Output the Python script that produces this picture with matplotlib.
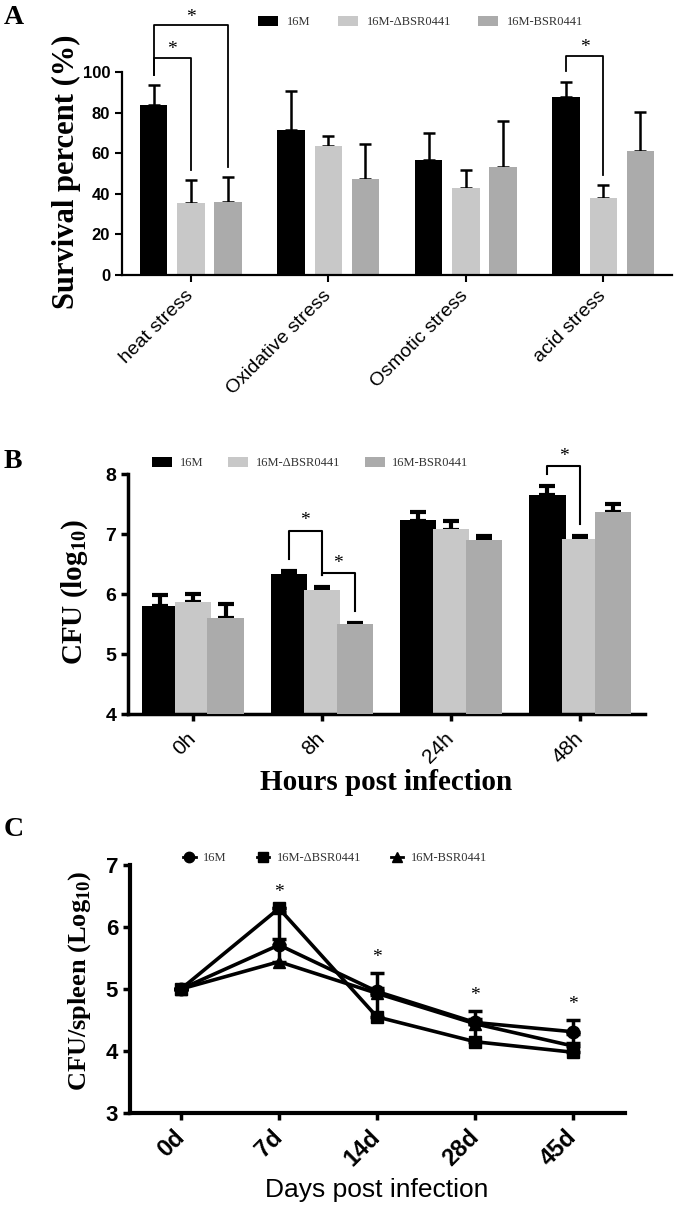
import numpy as np
import matplotlib.pyplot as plt
from matplotlib.lines import Line2D

plt.rcParams['font.family'] = ['Liberation Sans', 'DejaVu Sans']
plt.rcParams['mathtext.fontset'] = 'custom'
plt.rcParams['mathtext.rm'] = 'Liberation Serif:bold'
plt.rcParams['mathtext.bf'] = 'Liberation Serif:bold'
SERIF = ['Liberation Serif', 'DejaVu Serif']

strains = ['16M', '16M-ΔBSR0441', '16M-BSR0441']
colors = ['#000000', '#c8c8c8', '#ababab']

#----- panel A data
stress = ['heat stress', 'Oxidative stress', 'Osmotic stress', 'acid stress']
surv_16m = [83.6, 71.6, 56.5, 87.6]
surv_del = [35.3, 63.4, 43.0, 38.1]
surv_comp = [36.1, 47.2, 53.4, 61.3]
surv_err_16m = [10.0, 18.9, 13.4, 7.7]
surv_err_del = [11.4, 4.9, 8.6, 6.0]
surv_err_comp = [12.3, 17.2, 22.4, 18.9]
# (group, bar i, bar j, bracket height)
sig_A = [(0, 0, 1, 107), (0, 0, 2, 123), (3, 0, 1, 108)]

#----- panel B data
hours = ['0h', '8h', '24h', '48h']
cfu_16m = [5.81, 6.34, 7.23, 7.65]
cfu_del = [5.87, 6.07, 7.08, 6.93]
cfu_comp = [5.60, 5.51, 6.90, 7.37]
cfu_err_16m = [0.18, 0.05, 0.14, 0.15]
cfu_err_del = [0.13, 0.06, 0.15, 0.04]
cfu_err_comp = [0.24, 0.02, 0.08, 0.13]
sig_B = [(1, 0, 1, 7.06), (1, 1, 2, 6.35), (3, 0, 1, 8.13)]

#----- panel C data
days = ['0d', '7d', '14d', '28d', '45d']
sp_16m = [5.0, 5.71, 4.96, 4.46, 4.31]
sp_del = [5.0, 6.30, 4.55, 4.15, 3.98]
sp_comp = [5.0, 5.44, 4.93, 4.44, 4.08]
sp_err_16m = [0, 0.10, 0.05, 0.05, 0.19]
sp_err_del = [0, 0, 0.35, 0.28, 0.30]
sp_err_comp = [0, 0.80, 0.33, 0.21, 0.05]
sig_days = [1, 2, 3, 4]

W, H = 675, 1208
fig = plt.figure(figsize=(6.75, 12.08), dpi=100)


def box(left, top, right, bottom):
    return [left / W, 1 - bottom / H, (right - left) / W, (bottom - top) / H]


def bracket(ax, x1, x2, y1, y2, top, star_gap, lw):
    ax.plot([x1, x1, x2, x2], [y1, top, top, y2], color='black', lw=lw, clip_on=False)
    ax.text((x1 + x2) / 2, top + star_gap, '*', ha='center', va='center',
            family=SERIF, fontsize=14, clip_on=False)


#----- A
axA = fig.add_axes(box(122, 0, 672, 275))
x = np.arange(len(stress))
offA = [-0.27, 0, 0.27]
valsA = [surv_16m, surv_del, surv_comp]
errsA = [surv_err_16m, surv_err_del, surv_err_comp]
for k in range(3):
    axA.bar(x + offA[k], valsA[k], 0.2, color=colors[k], label=strains[k], zorder=2)
    axA.errorbar(x + offA[k], valsA[k], yerr=[np.zeros(4), errsA[k]], fmt='none',
                 ecolor='black', elinewidth=1.8, capsize=4, capthick=1.8, zorder=1)
for g, i, j, top in sig_A:
    yi = valsA[i][g] + errsA[i][g] + 5
    yj = valsA[j][g] + errsA[j][g] + 5
    bracket(axA, g + offA[i], g + offA[j], yi, yj, top, 4, 1.3)
axA.set_xlim(-0.5, 3.5)
axA.set_ylim(0, 135.5)
axA.set_yticks(np.arange(0, 101, 20))
axA.spines['left'].set_bounds(0, 100)
axA.set_xticks(x)
axA.set_xticklabels(stress, rotation=45, ha='right', va='center',
                    rotation_mode='anchor', fontsize=14)
axA.tick_params(axis='x', pad=8)
for lab in axA.get_yticklabels():
    lab.set_fontweight('bold')
    lab.set_fontsize(12)
for s in ['top', 'right']:
    axA.spines[s].set_visible(False)
for s in ['left', 'bottom']:
    axA.spines[s].set_linewidth(1.6)
axA.tick_params(width=1.5, length=5)
fig.legend(*axA.get_legend_handles_labels(), loc='center left',
           bbox_to_anchor=(258 / W, 1 - 22 / H), ncol=3, frameon=False,
           prop={'family': SERIF, 'size': 9}, labelcolor='#333333',
           handlelength=1.6, handleheight=0.9, handletextpad=0.7,
           columnspacing=2.2, borderpad=0, borderaxespad=0)

#----- B
axB = fig.add_axes(box(128, 474.3, 645, 714.3))
x = np.arange(len(hours))
offB = [-0.255, 0, 0.255]
valsB = [cfu_16m, cfu_del, cfu_comp]
errsB = [cfu_err_16m, cfu_err_del, cfu_err_comp]
for k in range(3):
    axB.errorbar(x + offB[k], valsB[k], yerr=[np.zeros(4), errsB[k]], fmt='none',
                 ecolor='black', elinewidth=3, capsize=6, capthick=3, zorder=1 + k)
    axB.bar(x + offB[k], np.array(valsB[k]) - 4, 0.28, bottom=4, color=colors[k],
            label=strains[k], zorder=1.5 + k)
for g, i, j, top in sig_B:
    yi = valsB[i][g] + errsB[i][g] + 0.2
    yj = valsB[j][g] + errsB[j][g] + 0.2
    bracket(axB, g + offB[i], g + offB[j], yi, yj, top, 0.17, 1.5)
axB.set_xlim(-0.5, 3.5)
axB.set_ylim(4, 8)
axB.set_yticks([4, 5, 6, 7, 8])
axB.set_xticks(x)
axB.set_xticklabels(hours, rotation=45, ha='right', va='center',
                    rotation_mode='anchor', fontsize=15)
axB.tick_params(axis='x', pad=10)
for lab in axB.get_yticklabels():
    lab.set_fontweight('bold')
    lab.set_fontsize(14)
for s in ['top', 'right']:
    axB.spines[s].set_visible(False)
for s in ['left', 'bottom']:
    axB.spines[s].set_linewidth(2.5)
axB.tick_params(width=2.5, length=5)
fig.legend(*axB.get_legend_handles_labels(), loc='center left',
           bbox_to_anchor=(152 / W, 1 - 463 / H), ncol=3, frameon=False,
           prop={'family': SERIF, 'size': 9}, labelcolor='#333333',
           handlelength=1.6, handleheight=0.9, handletextpad=0.6,
           columnspacing=2.0, borderpad=0, borderaxespad=0)

#----- C
axC = fig.add_axes(box(130, 865, 625, 1113))
x = np.arange(len(days))
valsC = [sp_16m, sp_del, sp_comp]
errsC = [sp_err_16m, sp_err_del, sp_err_comp]
markers = ['o', 's', '^']
for k in range(3):
    axC.errorbar(x, valsC[k], yerr=[np.zeros(5), errsC[k]], color='black', lw=2.6,
                 marker=markers[k], ms=9, capsize=5, capthick=2.5, elinewidth=2.5,
                 zorder=2 + k)
tops = np.max(np.array(valsC) + np.array(errsC), axis=0)
for d in sig_days:
    axC.text(d, tops[d] + 0.25, '*', ha='center', va='center',
             family=SERIF, fontsize=14)
axC.set_xlim(-0.52, 4.53)
axC.set_ylim(3, 7)
axC.set_yticks([3, 4, 5, 6, 7])
axC.set_xticks(x)
axC.set_xticklabels(days, rotation=45, ha='right', va='center',
                    rotation_mode='anchor', fontsize=17, fontweight='bold')
axC.tick_params(axis='x', pad=10)
for lab in axC.get_yticklabels():
    lab.set_fontweight('bold')
    lab.set_fontsize(16)
for s in ['top', 'right']:
    axC.spines[s].set_visible(False)
for s in ['left', 'bottom']:
    axC.spines[s].set_linewidth(3)
axC.tick_params(width=2.5, length=5)
hC = [Line2D([], [], color='black', lw=2, marker=m, ms=7.5) for m in markers]
fig.legend(hC, strains, loc='center left',
           bbox_to_anchor=(183 / W, 1 - 858 / H), ncol=3, frameon=False,
           prop={'family': SERIF, 'size': 9}, labelcolor='#333333',
           handlelength=1.0, handletextpad=0.6, numpoints=1,
           columnspacing=2.4, borderpad=0, borderaxespad=0)

#----- axis labels and panel letters
fig.text(66 / W, 1 - 172 / H, 'Survival percent (%)', rotation=90, ha='center',
         va='center', family=SERIF, fontweight='bold', fontsize=22)
fig.text(75 / W, 1 - 592 / H, r'CFU (log$_{10}$)', rotation=90, ha='center',
         va='center', family=SERIF, fontweight='bold', fontsize=21)
fig.text(386 / W, 1 - 782 / H, 'Hours post infection', ha='center', va='center',
         family=SERIF, fontweight='bold', fontsize=21)
fig.text(80 / W, 1 - 981 / H, r'CFU/spleen (Log$_{10}$)', rotation=90, ha='center',
         va='center', family=SERIF, fontweight='bold', fontsize=19)
fig.text(377 / W, 1 - 1190 / H, 'Days post infection', ha='center', va='center',
         fontsize=19)
for letter, (lx, ly) in zip('ABC', [(14, 17), (13, 462), (14, 829)]):
    fig.text(lx / W, 1 - ly / H, letter, ha='center', va='center',
             family=SERIF, fontweight='bold', fontsize=20)

fig.savefig('out.png', dpi=100)
